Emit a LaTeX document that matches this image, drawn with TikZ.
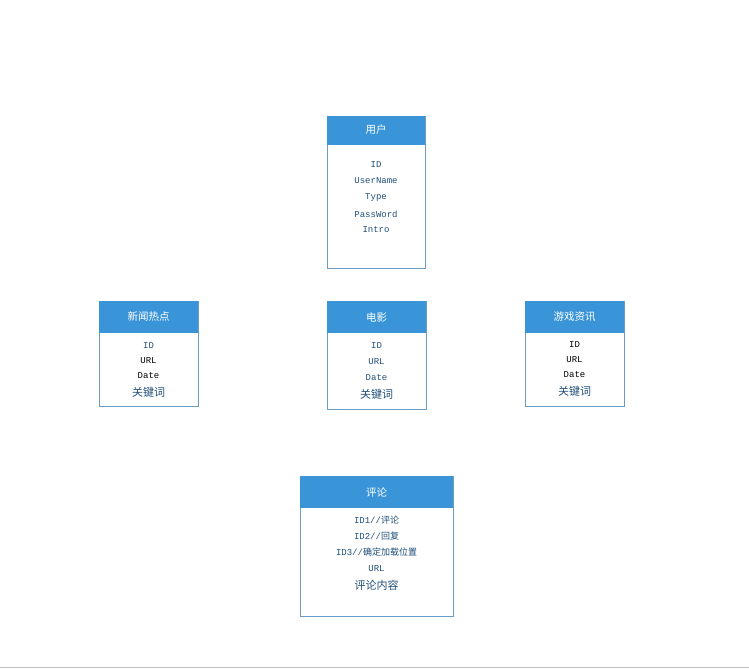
\documentclass[tikz,border=0pt]{standalone}
\usepackage{fontspec}
\setmonofont{Liberation Mono}
\newfontfamily\cjk{Noto Sans CJK SC}
\definecolor{headblue}{HTML}{3A95D8}
\definecolor{edgeblue}{HTML}{6A9CC4}
\definecolor{textblue}{HTML}{1F4E79}
\tikzset{
  head/.style={fill=headblue, draw=headblue, text=white, font=\cjk\fontsize{10.5}{12}\selectfont},
  body/.style={draw=edgeblue, line width=0.6pt},
  field/.style={text=textblue, font=\ttfamily\fontsize{9}{10}\selectfont, inner sep=0pt},
  blackfield/.style={field, text=black},
  cjkfield/.style={text=textblue, font=\cjk\fontsize{11}{12}\selectfont, inner sep=0pt}
}
\begin{document}
\begin{tikzpicture}[x=1pt, y=-1pt]
  \useasboundingbox (0,0) rectangle (749,670);

  % bottom rule
  \draw[gray!50, line width=1pt] (0,667) -- (749,667);

  % user table
  \draw[body] (327,116) rectangle (425,268);
  \fill[headblue] (327,116) rectangle (425,145);
  \node[head, draw=none, fill=none] (user) at (376,130) {用户};
  \node[field] (userid) at (376,165) {ID};
  \node[field] (username) at (376,181) {UserName};
  \node[field] (usertype) at (376,197) {Type};
  \node[field] (userpass) at (376,214) {PassWord};
  \node[field] (userintro) at (376,230) {Intro};

  % news table
  \draw[body] (99,301) rectangle (198,406);
  \fill[headblue] (99,301) rectangle (198,333);
  \node[head, draw=none, fill=none] (news) at (148.5,317) {新闻热点};
  \node[field] (newsid) at (148.5,346) {ID};
  \node[blackfield] (newsurl) at (148.5,361) {URL};
  \node[blackfield] (newsdate) at (148.5,376) {Date};
  \node[cjkfield] (newskey) at (148.5,392) {关键词};

  % movie table
  \draw[body] (327,301) rectangle (426,409);
  \fill[headblue] (327,301) rectangle (426,333);
  \node[head, draw=none, fill=none] (movie) at (376.5,317) {电影};
  \node[field] (movieid) at (376.5,346) {ID};
  \node[field] (movieurl) at (376.5,362) {URL};
  \node[field] (moviedate) at (376.5,378) {Date};
  \node[cjkfield] (moviekey) at (376.5,394) {关键词};

  % game table
  \draw[body] (525,301) rectangle (624,406);
  \fill[headblue] (525,301) rectangle (624,333);
  \node[head, draw=none, fill=none] (game) at (574.5,317) {游戏资讯};
  \node[blackfield] (gameid) at (574.5,345) {ID};
  \node[blackfield] (gameurl) at (574.5,360) {URL};
  \node[blackfield] (gamedate) at (574.5,375) {Date};
  \node[cjkfield] (gamekey) at (574.5,391) {关键词};

  % comment table
  \draw[body] (300,476) rectangle (453,616);
  \fill[headblue] (300,476) rectangle (453,508);
  \node[head, draw=none, fill=none] (comment) at (376.5,492) {评论};
  \node[field] (commentid1) at (376.5,520) {ID1//\cjk 评论};
  \node[field] (commentid2) at (376.5,536) {ID2//\cjk 回复};
  \node[field] (commentid3) at (376.5,552) {ID3//\cjk 确定加载位置};
  \node[field] (commenturl) at (376.5,569) {URL};
  \node[cjkfield] (commenttext) at (376.5,585) {评论内容};

\end{tikzpicture}
\end{document}
